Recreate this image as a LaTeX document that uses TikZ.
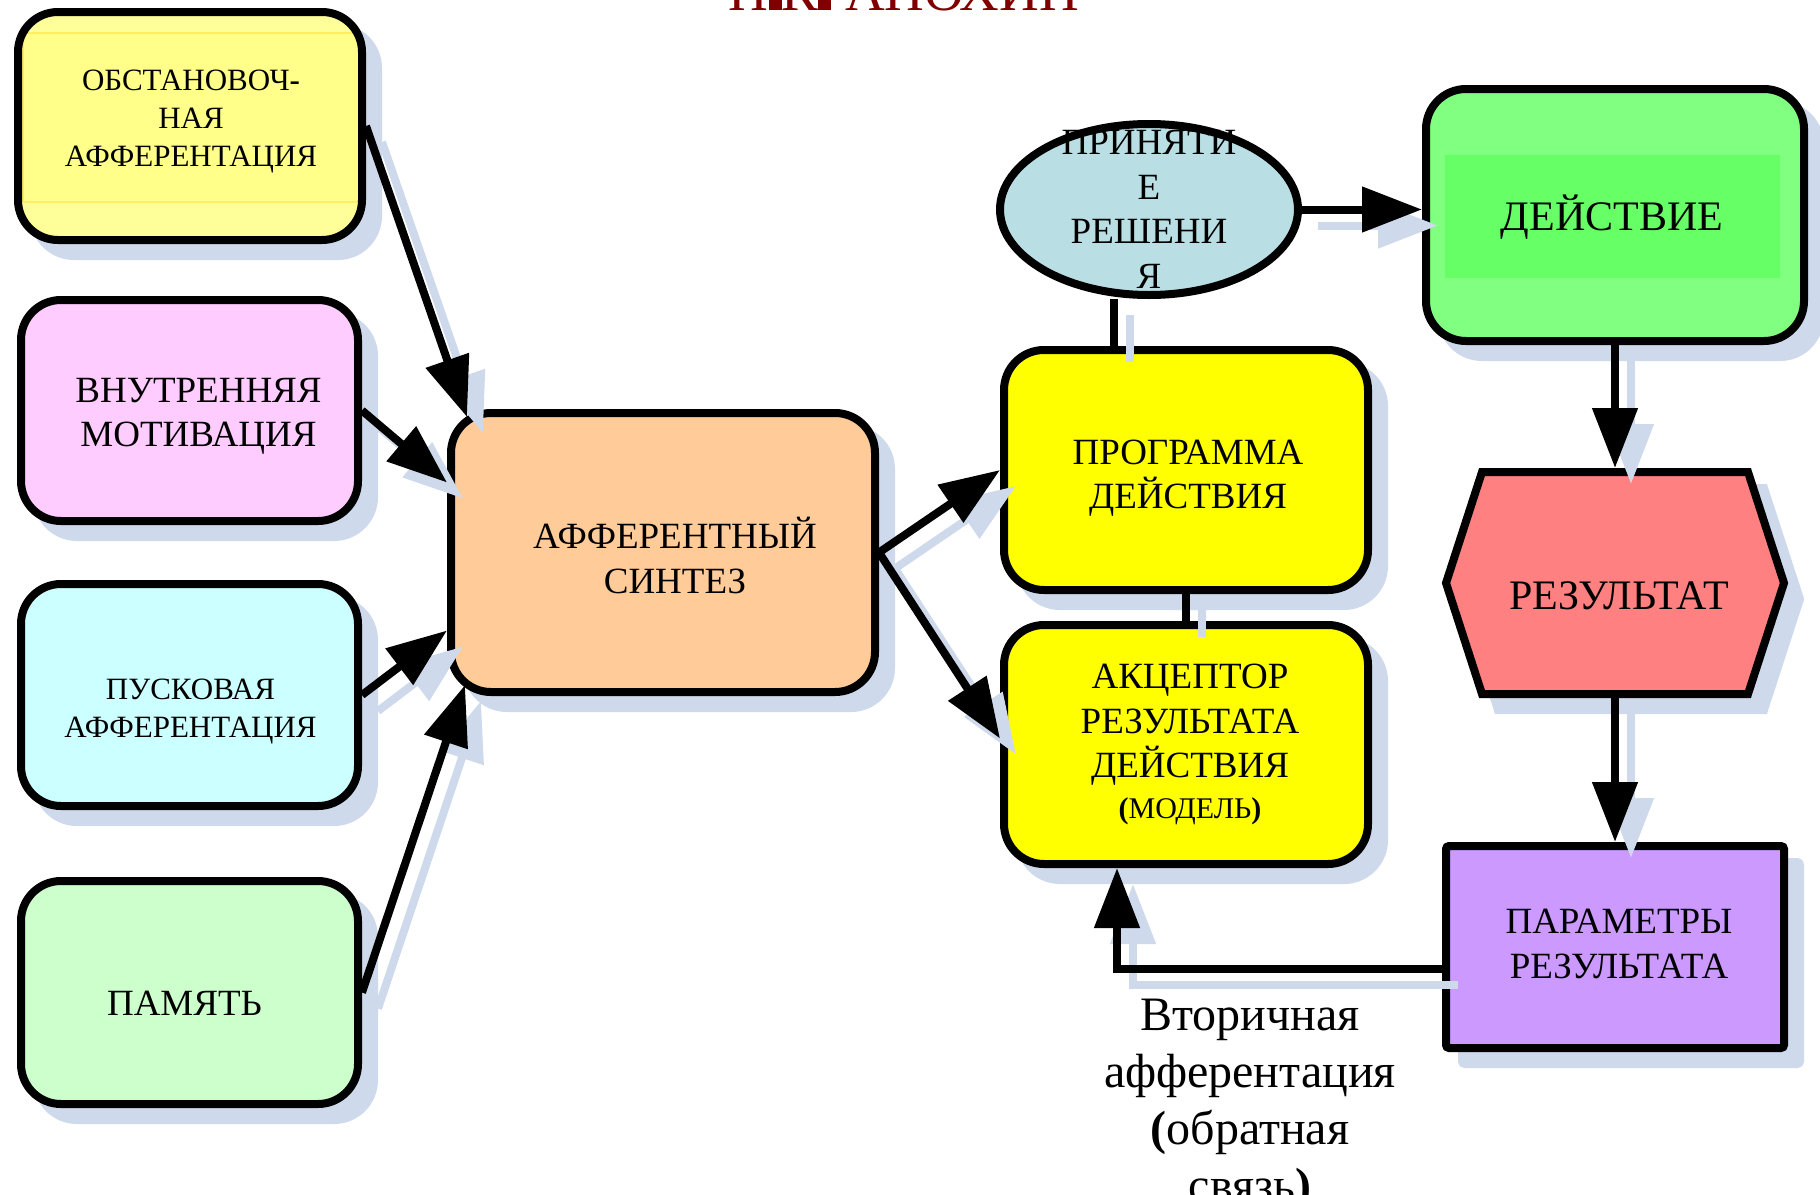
\documentclass[tikz,border=0pt]{standalone}
\usepackage{fontspec}
\setmainfont{Liberation Serif}
\usetikzlibrary{arrows.meta,shapes.geometric,shadows}

\definecolor{shadowc}{RGB}{206,218,236}
\definecolor{titlered}{RGB}{128,0,0}
\definecolor{cObst}{RGB}{255,255,153}
\definecolor{cObstIn}{RGB}{255,255,138}
\definecolor{cObstLine}{RGB}{255,238,100}
\definecolor{cMot}{RGB}{255,204,255}
\definecolor{cPusk}{RGB}{204,255,255}
\definecolor{cMem}{RGB}{204,255,204}
\definecolor{cSyn}{RGB}{255,204,153}
\definecolor{cDec}{RGB}{185,223,228}
\definecolor{cProg}{RGB}{255,255,0}
\definecolor{cAct}{RGB}{128,255,128}
\definecolor{cActIn}{RGB}{102,255,102}
\definecolor{cRes}{RGB}{255,128,128}
\definecolor{cPar}{RGB}{204,153,255}

\newcommand{\fntS}{\fontsize{31}{38}\selectfont}
\newcommand{\fntM}{\fontsize{37}{44.5}\selectfont}
\newcommand{\fntL}{\fontsize{42}{50}\selectfont}
\newcommand{\fntMod}{\fontsize{30}{36}\selectfont}
\newcommand{\fntB}{\fontsize{48}{57}\selectfont}
\newcommand{\fntHead}{\fontsize{55}{60}\selectfont}

\begin{document}
\begin{tikzpicture}[x=1pt, y=-1pt,
  shadowed/.style={drop shadow={shadow xshift=16pt, shadow yshift=-16pt,
      fill=shadowc, draw=shadowc, line width=8pt, opacity=1}},
  box/.style={draw=black, line width=8pt, rounded corners=40pt,
      inner sep=0pt, shadowed},
  lbl/.style={align=center, inner sep=0pt, text=black},
  arr/.style={line width=8pt, -{Triangle[length=60pt, width=44pt]}},
  ln/.style={line width=8pt},
  cshadow/.style={color=shadowc, transform canvas={shift={(16pt,-16pt)}}},
  cmain/.style={color=black}]

\fill[white] (0,0) rectangle (1820,1194);
\useasboundingbox (0,0) rectangle (1820,1194);

% heading, mostly above the page edge
\node[anchor=base, inner sep=0pt, text=titlered, font=\fntHead] (title) at (904,10)
  {П\rule{13pt}{14pt}К\rule{13pt}{14pt} АНОХИН};

% inputs of the afferent synthesis
\node[box, fill=cObst, minimum width=344pt, minimum height=228pt,
  path picture={\filldraw[fill=cObstIn, draw=cObstLine, line width=1.2pt, sharp corners]
    ([shift={(5,21)}]path picture bounding box.north west) rectangle
    ([shift={(-3,-38)}]path picture bounding box.south east);}] (b1) at (190,126) {};
\node[lbl, font=\fntS] (t1) at ([shift={(1,-4)}]b1.center) {ОБСТАНОВОЧ\textbf{-}\\НАЯ\\АФФЕРЕНТАЦИЯ};

\node[box, fill=cMot, minimum width=337pt, minimum height=221pt] (b2) at (189.5,410.5) {};
\node[lbl, font=\fntM] (t2) at ([shift={(9,6)}]b2.center) {ВНУТРЕННЯЯ\\МОТИВАЦИЯ};

\node[box, fill=cPusk, minimum width=337pt, minimum height=222pt] (b3) at (189.5,695) {};
\node[lbl, font=\fntS] (t3) at ([shift={(1,17)}]b3.center) {ПУСКОВАЯ\\АФФЕРЕНТАЦИЯ};

\node[box, fill=cMem, minimum width=337pt, minimum height=223pt] (b4) at (189.5,992.5) {};
\node[lbl, font=\fntM] (t4) at ([shift={(-5,11)}]b4.center) {ПАМЯТЬ};

% afferent synthesis
\node[box, fill=cSyn, minimum width=424pt, minimum height=279pt] (b5) at (663,552.5) {};
\node[lbl, font=\fntM] (t5) at ([shift={(12,3)}]b5.center) {АФФЕРЕНТНЫЙ\\СИНТЕЗ};

% decision
\node[ellipse, draw=black, line width=8pt, fill=cDec, inner sep=0pt,
  minimum width=298pt, minimum height=171pt] (dec) at (1149,209.5) {};
\node[lbl, font=\fntM] (tdec) at (dec.center) {ПРИНЯТИ\\Е\\РЕШЕНИ\\Я};

% programme and acceptor
\node[box, fill=cProg, minimum width=364pt, minimum height=240pt] (prog) at (1186,470) {};
\node[lbl, font=\fntM] (tprog) at ([shift={(2,8)}]prog.center) {ПРОГРАММА\\ДЕЙСТВИЯ};

\node[box, fill=cProg, minimum width=364pt, minimum height=239pt] (acc) at (1186,744.5) {};
\node[lbl, font=\fntM] (tacc) at ([shift={(4,0)}]acc.center)
  {АКЦЕПТОР\\РЕЗУЛЬТАТА\\ДЕЙСТВИЯ\\[-4pt]{\fntMod\textbf{(}МОДЕЛЬ\textbf{)}}};

% action
\node[box, fill=cAct, minimum width=378pt, minimum height=252pt,
  path picture={\fill[cActIn, sharp corners]
    ([shift={(19,66)}]path picture bounding box.north west) rectangle
    ([shift={(-24,-63)}]path picture bounding box.south east);}] (act) at (1615,215) {};
\node[lbl, font=\fntL] (tact) at ([shift={(-3,2)}]act.center) {ДЕЙСТВИЕ};

% result (hexagon)
\node[inner sep=0pt, outer sep=4pt, minimum width=338pt, minimum height=222pt] (res) at (1615,583) {};
\filldraw[fill=cRes, draw=black, line width=8pt, shadowed]
  ([xshift=4pt]res.west) -- ([shift={(40,4)}]res.north west)
  -- ([shift={(-40,4)}]res.north east) -- ([xshift=-4pt]res.east)
  -- ([shift={(-40,-4)}]res.south east) -- ([shift={(40,-4)}]res.south west) -- cycle;
\node[lbl, font=\fntL] (tres) at ([shift={(4,13)}]res.center) {РЕЗУЛЬТАТ};

% result parameters
\node[box, rounded corners=3pt, fill=cPar, minimum width=338pt, minimum height=202pt] (par) at (1615,947) {};
\node[lbl, font=\fntM] (tpar) at ([shift={(4,-3)}]par.center) {ПАРАМЕТРЫ\\РЕЗУЛЬТАТА};

% feedback caption
\node[lbl, font=\fntB, anchor=north] (tfb) at (1250,999)
  {Вторичная\\афферентация\\\textbf{(}обратная\\связь\textbf{)}};

\coordinate (d1) at ([xshift=-35pt]dec.south);
\coordinate (fb) at ([xshift=-69pt]acc.south);

% connectors, first their shadows, then the black lines
\foreach \lay in {cshadow,cmain}{
  \begin{scope}[\lay]
    \draw[arr] (b1.east) -- ([shift={(20,8)}]b5.north west);
    \draw[arr] (b2.east) -- ([yshift=70pt]b5.west);
    \draw[arr] (b3.east) -- ([yshift=-78pt]b5.west);
    \draw[arr] (b4.east) -- ([shift={(18,-11)}]b5.south west);
    \draw[arr] (b5.east) -- (prog.west);
    \draw[arr] (b5.east) -- ([yshift=6pt]acc.west);
    \draw[ln] (d1) -- (d1 |- prog.north);
    \draw[ln] (prog.south) -- (acc.north);
    \draw[arr] (dec.east) -- (dec.east -| act.west);
    \draw[arr] (act.south) -- (res.north);
    \draw[arr] (res.south) -- (par.north);
    \draw[arr] ([yshift=-22pt]par.west) -| (fb);
  \end{scope}
}
\end{tikzpicture}
\end{document}
